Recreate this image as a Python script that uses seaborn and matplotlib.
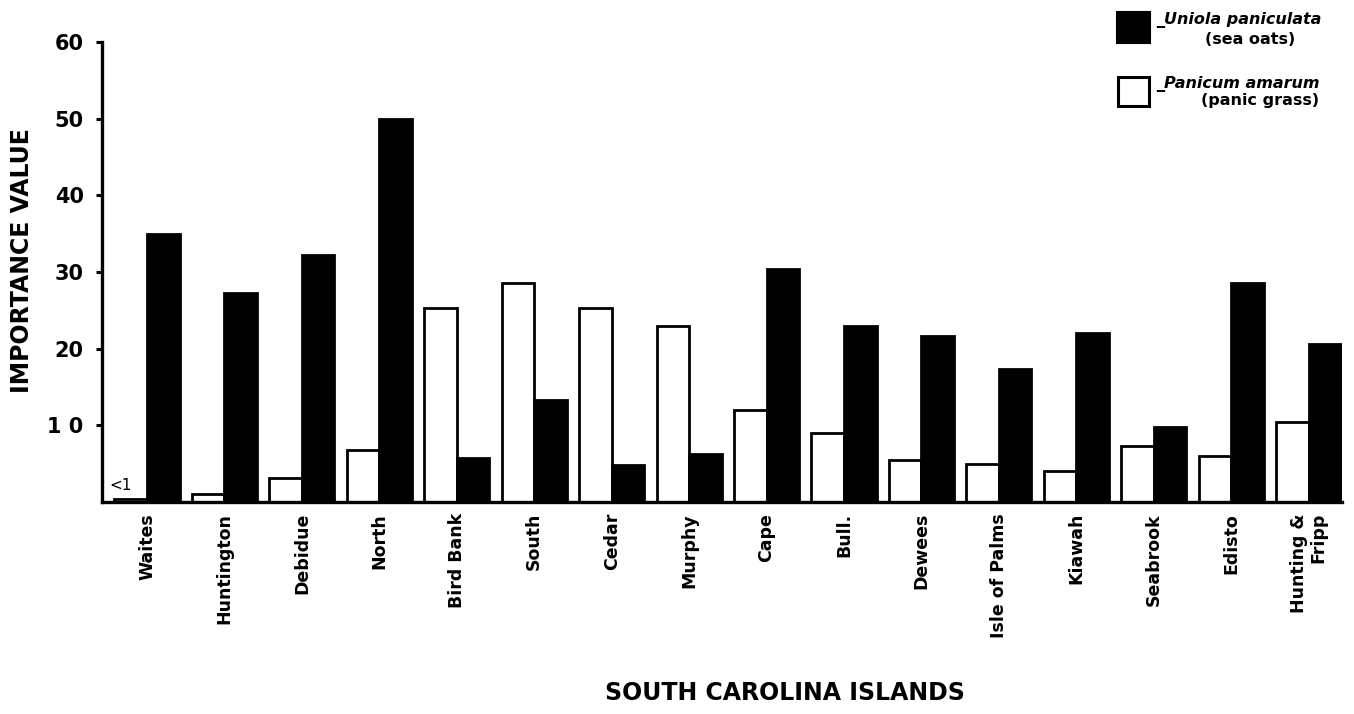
import numpy as np
import pandas as pd
import seaborn as sns
import matplotlib
matplotlib.use("Agg")
import matplotlib.pyplot as plt
from matplotlib.patches import Rectangle

# Importance values of the two dune grasses on each island
islands = ["Waites", "Huntington", "Debidue", "North", "Bird Bank", "South",
           "Cedar", "Murphy", "Cape", "Bull.", "Dewees", "Isle of Palms",
           "Kiawah", "Seabrook", "Edisto", "Hunting &\nFripp"]
panic_grass = [0.4, 1.1, 3.1, 6.8, 25.3, 28.6, 25.3, 22.9, 12.0, 9.0,
               5.5, 5.0, 4.1, 7.3, 6.0, 10.5]
sea_oats = [35.0, 27.2, 32.2, 50.0, 5.8, 13.3, 4.8, 6.3, 30.4, 22.9,
            21.6, 17.3, 22.0, 9.8, 28.6, 20.6]
species = ["Panicum amarum", "Uniola paniculata"]
y_ticks = [10, 20, 30, 40, 50, 60]
y_tick_labels = ["1 0", "20", "30", "40", "50", "60"]

df = pd.DataFrame({
    "island": islands * 2,
    "species": [species[0]] * len(islands) + [species[1]] * len(islands),
    "value": panic_grass + sea_oats,
})

sns.set_theme(style="white")
plt.rcParams["font.family"] = ["DejaVu Sans"]
plt.rcParams["text.color"] = "black"
plt.rcParams["axes.labelcolor"] = "black"
plt.rcParams["xtick.color"] = "black"
plt.rcParams["ytick.color"] = "black"

W, H = 1354, 714
fig = plt.figure(figsize=(W / 100, H / 100), dpi=100)
ax = fig.add_axes([101.7 / W, 1 - 502 / H, (1342 - 101.7) / W, 460 / H])

sns.barplot(data=df, x="island", y="value", hue="species", hue_order=species,
            palette=["white", "black"], saturation=1, edgecolor="black",
            linewidth=2.0, width=0.84, gap=0, errorbar=None, legend=False, ax=ax)

ax.set_ylim(0, 60)
ax.set_xlim(-0.585, 15.43)
ax.set_yticks(y_ticks)
ax.set_yticklabels(y_tick_labels, fontsize=15, fontweight="bold")
ax.tick_params(axis="y", left=True, length=4, width=2.2, pad=9, color="black")
ax.tick_params(axis="x", bottom=False, pad=2)
for lab in ax.get_xticklabels():
    lab.set_rotation(90)
    lab.set_fontsize(12.5)
    lab.set_fontweight("bold")
    lab.set_va("top")
    lab.set_ha("center")
    lab.set_multialignment("right")
    lab.set_linespacing(1.05)

for side in ["top", "right"]:
    ax.spines[side].set_visible(False)
for side in ["left", "bottom"]:
    ax.spines[side].set_color("black")
    ax.spines[side].set_linewidth(2.4)

ax.set_xlabel("")
ax.set_ylabel("IMPORTANCE VALUE", fontsize=17, fontweight="bold", labelpad=0)
ax.yaxis.set_label_coords(-68 / (1342 - 101.7), 0.525)

# value below one for Waites panic grass
ax.text(-0.34, 2.1, "<1", fontsize=11, ha="center", va="center")

fig.text(785 / W, 1 - 693 / H, "SOUTH CAROLINA ISLANDS", fontsize=17,
         fontweight="bold", ha="center", va="center")

# legend keys drawn in the upper right corner
def px(x, y):
    return x / W, 1 - y / H

fig.add_artist(Rectangle(px(1117, 43), 33 / W, 31 / H, transform=fig.transFigure,
                         facecolor="black", edgecolor="black", linewidth=1.5))
fig.add_artist(Rectangle(px(1118, 106), 31 / W, 29 / H, transform=fig.transFigure,
                         facecolor="white", edgecolor="black", linewidth=2.2))
fig.text(*px(1156, 20), "_Uniola paniculata", fontsize=11.5, fontweight="bold",
         fontstyle="italic", ha="left", va="center")
fig.text(*px(1250, 40), "(sea oats)", fontsize=11.5, fontweight="bold",
         ha="center", va="center")
fig.text(*px(1156, 84), "_Panicum amarum", fontsize=11.5, fontweight="bold",
         fontstyle="italic", ha="left", va="center")
fig.text(*px(1260, 100), "(panic grass)", fontsize=11.5, fontweight="bold",
         ha="center", va="center")

fig.savefig("out.png", dpi=100, facecolor="white")
